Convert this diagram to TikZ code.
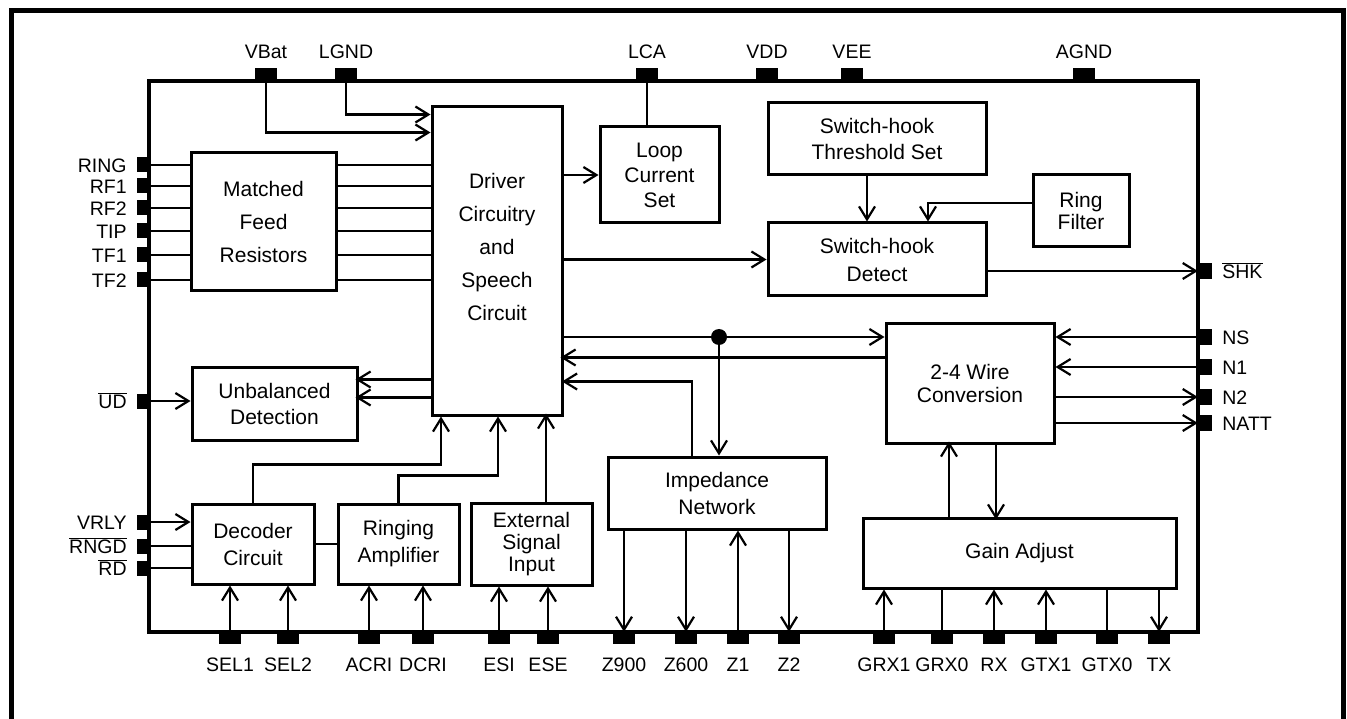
\documentclass[tikz,border=0pt]{standalone}
\usepackage{fontspec}
\setmainfont{Liberation Sans}
\usetikzlibrary{arrows.meta}
\newcommand{\ovl}[1]{$\overline{\mbox{#1}}$}

\begin{document}
\begin{tikzpicture}[x=1pt,y=-1pt,
  blk/.style={draw, line width=3pt, inner sep=0pt, align=center, font=\fontsize{21}{26}\selectfont},
  pin/.style={fill=black, inner sep=0pt},
  lbl/.style={inner sep=0pt, font=\fontsize{19.5}{23}\selectfont, text height=14.5pt, text depth=0pt},
  tpin/.style={pin, minimum width=22, minimum height=12, label={[lbl,label distance=9pt]above:#1}},
  bpin/.style={pin, minimum width=22, minimum height=12, label={[lbl,label distance=13pt]below:#1}},
  lpin/.style={pin, minimum width=12, minimum height=15, label={[lbl,label distance=10pt]left:#1}},
  rpin/.style={pin, minimum width=14, minimum height=16, label={[lbl,label distance=10pt]right:#1}},
  ln/.style={line width=2.2pt},
  arr/.style={ln, -{Straight Barb[length=13pt,width=16pt]}},
  dot/.style={circle, fill=black, inner sep=0pt, minimum size=16},
]
\useasboundingbox (0,0) rectangle (1347,719);
\fill[white] (0,0) rectangle (1347,719);
\clip (0,0) rectangle (1347,719);
 %frame
 \draw[line width=5pt] (11,740) -- (11,11) -- (1343,11) -- (1343,740);
 \node[draw, line width=3.5pt, inner sep=0pt, minimum width=1049, minimum height=551] (chip) at (673.5,356.5) {};

 %blocks
 \node[blk, minimum width=145, minimum height=138, font=\fontsize{21}{33}\selectfont] (mfr) at (263.5,222) {Matched\\Feed\\Resistors};
 \node[blk, minimum width=130, minimum height=308, font=\fontsize{21}{33}\selectfont] (drv) at (497,261) {Driver\\Circuitry\\and\\Speech\\Circuit\\[-14pt]\strut};
 \node[blk, minimum width=119, minimum height=96, font=\fontsize{21}{25}\selectfont] (lcs) at (659.5,175) {Loop\\Current\\Set};
 \node[blk, minimum width=218, minimum height=72] (sht) at (877,139) {Switch-hook\\Threshold Set};
 \node[blk, minimum width=96, minimum height=72, font=\fontsize{21}{22}\selectfont] (rf) at (1081,211) {Ring\\Filter};
 \node[blk, minimum width=218, minimum height=73, font=\fontsize{21}{28}\selectfont] (shd) at (877,259.5) {Switch-hook\\Detect};
 \node[blk, minimum width=165, minimum height=73] (unb) at (274.5,403.5) {Unbalanced\\Detection};
 \node[blk, minimum width=168, minimum height=119, font=\fontsize{21}{23}\selectfont] (w24) at (970,383.5) {2-4 Wire\\Conversion};
 \node[blk, minimum width=122, minimum height=80, font=\fontsize{21}{27}\selectfont] (dec) at (253,544) {Decoder\\Circuit};
 \node[blk, minimum width=121, minimum height=80, font=\fontsize{21}{27}\selectfont] (ramp) at (398.5,544) {Ringing\\Amplifier};
 \node[blk, minimum width=121, minimum height=82, font=\fontsize{21}{22}\selectfont] (ext) at (531.5,544) {External\\Signal\\Input};
 \node[blk, minimum width=218, minimum height=72, font=\fontsize{21}{27}\selectfont] (imp) at (717,493) {Impedance\\Network};
 \node[blk, minimum width=313, minimum height=70] (gain) at (1019.5,553) {Gain Adjust};

 %top pins
 \node[tpin=VBat] (vbat) at (266,74) {};
 \node[tpin=LGND] (lgnd) at (346,74) {};
 \node[tpin=LCA] (lca) at (647,74) {};
 \node[tpin=VDD] (vdd) at (767,74) {};
 \node[tpin=VEE] (vee) at (852,74) {};
 \node[tpin=AGND] (agnd) at (1084,74) {};
 %left pins
 \node[lpin=RING] (ring) at (143,165) {};
 \node[lpin=RF1] (rf1) at (143,186) {};
 \node[lpin=RF2] (rf2) at (143,208) {};
 \node[lpin=TIP] (tip) at (143,231) {};
 \node[lpin=TF1] (tf1) at (143,255) {};
 \node[lpin=TF2] (tf2) at (143,280) {};
 \node[lpin=\ovl{UD}] (ud) at (143,401) {};
 \node[lpin=VRLY] (vrly) at (143,522) {};
 \node[lpin=\ovl{RNGD}] (rngd) at (143,546) {};
 \node[lpin=\ovl{RD}] (rd) at (143,568) {};
 %right pins
 \node[rpin=\ovl{SHK}] (shk) at (1205,271) {};
 \node[rpin=NS] (ns) at (1205,337) {};
 \node[rpin=N1] (n1) at (1205,367) {};
 \node[rpin=N2] (n2) at (1205,397) {};
 \node[rpin=NATT] (natt) at (1205,423) {};
 %bottom pins
 \node[bpin=SEL1] (sel1) at (230,638) {};
 \node[bpin=SEL2] (sel2) at (288,638) {};
 \node[bpin=ACRI] (acri) at (369,638) {};
 \node[bpin=DCRI] (dcri) at (423,638) {};
 \node[bpin=ESI] (esi) at (499,638) {};
 \node[bpin=ESE] (ese) at (548,638) {};
 \node[bpin=Z900] (z900) at (624,638) {};
 \node[bpin=Z600] (z600) at (686,638) {};
 \node[bpin=Z1] (z1) at (738,638) {};
 \node[bpin=Z2] (z2) at (789,638) {};
 \node[bpin=GRX1] (grx1) at (884,638) {};
 \node[bpin=GRX0] (grx0) at (942,638) {};
 \node[bpin=RX] (rx) at (994,638) {};
 \node[bpin=GTX1] (gtx1) at (1046,638) {};
 \node[bpin=GTX0] (gtx0) at (1107,638) {};
 \node[bpin=TX] (tx) at (1159,638) {};

 %supplies
 \draw[arr] (vbat) |- ([yshift=-27pt]drv.north west);
 \draw[arr] (lgnd) |- ([yshift=-9pt]drv.north west);
 \draw[ln] (lca) -- (lca |- lcs.north);
 %feed
 \draw[ln] (ring) -- (ring -| mfr.west);
 \draw[ln] (rf1) -- (rf1 -| mfr.west);
 \draw[ln] (rf2) -- (rf2 -| mfr.west);
 \draw[ln] (tip) -- (tip -| mfr.west);
 \draw[ln] (tf1) -- (tf1 -| mfr.west);
 \draw[ln] (tf2) -- (tf2 -| mfr.west);
 \draw[ln] (ring -| mfr.east) -- (ring -| drv.west);
 \draw[ln] (rf1 -| mfr.east) -- (rf1 -| drv.west);
 \draw[ln] (rf2 -| mfr.east) -- (rf2 -| drv.west);
 \draw[ln] (tip -| mfr.east) -- (tip -| drv.west);
 \draw[ln] (tf1 -| mfr.east) -- (tf1 -| drv.west);
 \draw[ln] (tf2 -| mfr.east) -- (tf2 -| drv.west);
 %driver outputs
 \draw[arr] (drv.east |- lcs.west) -- (lcs.west);
 \draw[arr] (drv.east |- shd.west) -- (shd.west);
 \draw[arr] ([yshift=-274pt]drv.north west) -- ++(-75,0);
 \draw[arr] ([yshift=-292pt]drv.north west) -- ++(-75,0);
 \draw[arr] (ud) -- (ud -| unb.west);
 %switch-hook
 \draw[arr] ([xshift=-10pt]sht.south) -- ([xshift=-10pt]shd.north);
 \draw[arr] ([yshift=8pt]rf.west) -| ([xshift=51pt]shd.north);
 \draw[arr] (shd.east |- shk) -- (shk);
 %2-4 wire
 \draw[arr] (drv.east |- ns) -- (ns -| w24.west);
 \node[dot] (jn) at (719,337) {};
 \draw[arr] (jn) -- (jn |- imp.north);
 \draw[arr] ([yshift=-35pt]w24.north west) -- ++(-324,0);
 \draw[arr] ([xshift=-25pt]imp.north) |- ++(-130,-74);
 \draw[arr] (ns) -- (ns -| w24.east);
 \draw[arr] (n1) -- (n1 -| w24.east);
 \draw[arr] (n2 -| w24.east) -- (n2);
 \draw[arr] (natt -| w24.east) -- (natt);
 \draw[arr] ([xshift=-70.5pt]gain.north) -- ++(0,-75);
 \draw[arr] ([xshift=26pt]w24.south) -- ++(0,75);
 %lower blocks
 \draw[arr] (dec.north) -- ++(0,-38) -| ([xshift=-56pt]drv.south);
 \draw[arr] (ramp.north) -- ++(0,-27) -| ([xshift=1pt]drv.south);
 \draw[arr] ([xshift=14.5pt]ext.north) -- ++(0,-88);
 \draw[ln] (dec) -- (ramp);
 \draw[arr] (vrly) -- (vrly -| dec.west);
 \draw[ln] (rngd) -- (rngd -| dec.west);
 \draw[ln] (rd) -- (rd -| dec.west);
 %bottom
 \draw[arr] (sel1) -- (sel1 |- dec.south);
 \draw[arr] (sel2) -- (sel2 |- dec.south);
 \draw[arr] (acri) -- (acri |- ramp.south);
 \draw[arr] (dcri) -- (dcri |- ramp.south);
 \draw[arr] (esi) -- (esi |- ext.south);
 \draw[arr] (ese) -- (ese |- ext.south);
 \draw[arr] (z900 |- imp.south) -- (z900);
 \draw[arr] (z600 |- imp.south) -- (z600);
 \draw[arr] (z1) -- (z1 |- imp.south);
 \draw[arr] (z2 |- imp.south) -- (z2);
 \draw[arr] (grx1) -- (grx1 |- gain.south);
 \draw[ln] (grx0) -- (grx0 |- gain.south);
 \draw[arr] (rx) -- (rx |- gain.south);
 \draw[arr] (gtx1) -- (gtx1 |- gain.south);
 \draw[ln] (gtx0) -- (gtx0 |- gain.south);
 \draw[arr] (tx |- gain.south) -- (tx);
\end{tikzpicture}
\end{document}
